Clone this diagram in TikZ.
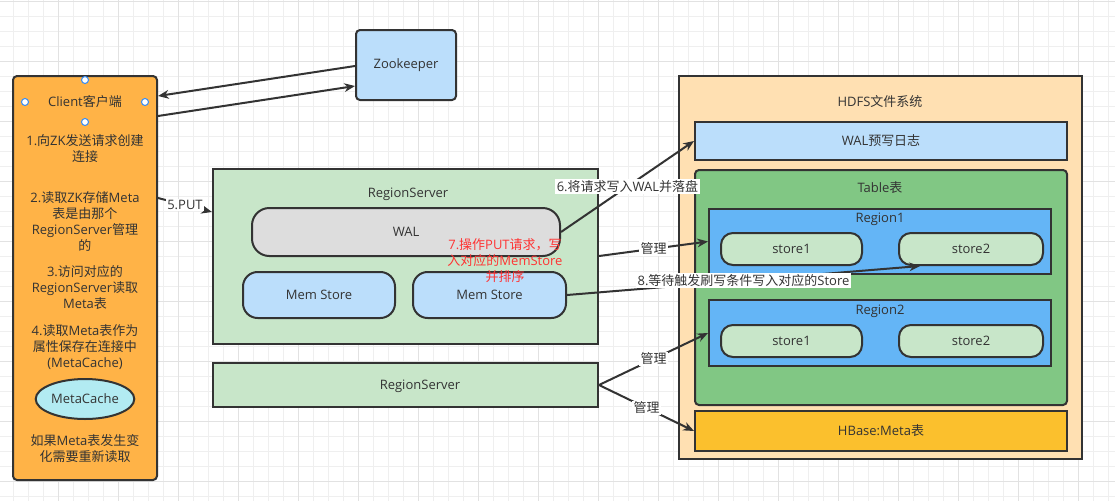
\documentclass[tikz,border=0pt]{standalone}
\usepackage{fontspec}
\setmainfont{Open Sans}
\newfontfamily\cjkf{Noto Sans CJK SC}
\newfontfamily\latf{Open Sans}
\newcount\mycc
\mycc="4E00
\loop \XeTeXcharclass\mycc=1 \advance\mycc by 1 \ifnum\mycc<"A000 \repeat
\XeTeXcharclass"FF0C=1
\XeTeXcharclass"3002=1
\XeTeXinterchartokenstate=1
\XeTeXinterchartoks 0 1 = {\cjkf}
\XeTeXinterchartoks 4095 1 = {\cjkf}
\XeTeXinterchartoks 255 1 = {\cjkf}
\XeTeXinterchartoks 1 0 = {\latf}
\usetikzlibrary{arrows.meta,shapes.geometric}
\definecolor{stk}{HTML}{333333}
\definecolor{txt}{HTML}{333333}
\definecolor{gminor}{HTML}{EFEFEF}
\definecolor{gmajor}{HTML}{E2E2E2}
\definecolor{clientc}{HTML}{FFB347}
\definecolor{lblue}{HTML}{BBDEFB}
\definecolor{lgreen}{HTML}{C8E6C9}
\definecolor{walgray}{HTML}{DDDDDD}
\definecolor{hdfsc}{HTML}{FFE0B2}
\definecolor{tablec}{HTML}{81C784}
\definecolor{regionc}{HTML}{64B5F6}
\definecolor{hbasec}{HTML}{FBC02D}
\definecolor{cachec}{HTML}{B2EBF2}
\definecolor{redt}{HTML}{FF3333}
\definecolor{handle}{HTML}{3D8EF0}
\begin{document}
\begin{tikzpicture}[x=0.75pt,y=-0.75pt,
  every node/.style={font=\fontsize{9.75}{12}\selectfont, text=txt},
  box/.style={draw=stk, line width=1.5pt, rectangle, inner sep=0pt},
  rbox/.style={box, rounded corners=3pt},
  lbl/.style={inner sep=0pt, align=center},
  wlbl/.style={fill=white, inner sep=1pt},
  arr/.style={draw=stk, line width=1.5pt, -{Stealth[length=8pt,width=6.5pt,inset=2.5pt]}},
  hnd/.style={draw=handle, fill=white, line width=0.8pt}
]
\useasboundingbox (0,0) rectangle (1115,501);
\fill[white] (0,0) rectangle (1115,501);
% grid
\foreach \x in {13,28,...,1108} {\draw[gminor, line width=0.75pt] (\x,0) -- (\x,501);}
\foreach \y in {1,16,...,496} {\draw[gminor, line width=0.75pt] (0,\y) -- (1115,\y);}
\foreach \x in {58,118,...,1078} {\draw[gmajor, line width=0.75pt] (\x,0) -- (\x,501);}
\foreach \y in {1,61,...,481} {\draw[gmajor, line width=0.75pt] (0,\y) -- (1115,\y);}

% Client
\node[rbox, fill=clientc, minimum width=108pt, minimum height=303pt] (client) at (85,278) {};
\node[lbl] (ctitle) at (85,102) {Client客户端};
\node[lbl] (c1) at (85,148.5) {1.向ZK发送请求创建\\连接};
\node[lbl] (c2) at (85,221) {2.读取ZK存储Meta\\表是由那个\\RegionServer管理\\的};
\node[lbl] (c3) at (85,287.5) {3.访问对应的\\RegionServer读取\\Meta表};
\node[lbl] (c4) at (85,347.5) {4.读取Meta表作为\\属性保存在连接中\\(MetaCache)};
\node[draw=stk, line width=1.5pt, ellipse, fill=cachec, minimum width=74pt, minimum height=30pt, inner sep=0pt] (cache) at (85,399) {MetaCache};
\node[lbl] (c5) at (85,448.5) {如果Meta表发生变\\化需要重新读取};
\foreach \p in {(85,80),(25,102),(145,102),(85,122)} {\draw[hnd] \p circle (3.5);}

% Zookeeper
\node[rbox, fill=lblue, minimum width=75pt, minimum height=52.5pt] (zk) at (406,65) {Zookeeper};

% RegionServers
\node[box, fill=lgreen, minimum width=288.75pt, minimum height=131.25pt] (rs1) at (405.5,256.5) {};
\node[lbl] (rs1t) at (408,194) {RegionServer};
\node[box, fill=walgray, rounded corners=13pt, minimum width=231pt, minimum height=36pt] (wal) at (406,232) {WAL};
\node[box, fill=lblue, rounded corners=11pt, minimum width=114pt, minimum height=34.5pt] (ms1) at (319,295) {Mem Store};
\node[box, fill=lblue, rounded corners=11pt, minimum width=114.75pt, minimum height=34.5pt] (ms2) at (489.5,295) {Mem Store};
\node[box, fill=lgreen, minimum width=288.75pt, minimum height=33pt] (rs2) at (405.5,385) {};
\node[lbl] (rs2t) at (420,386) {RegionServer};

% HDFS
\node[box, fill=hdfsc, minimum width=302.25pt, minimum height=287.25pt] (hdfs) at (880.5,267.5) {};
\node[lbl] (hdfst) at (880,102) {HDFS文件系统};
\node[box, fill=lblue, minimum width=279pt, minimum height=28.5pt] (walog) at (881,141) {WAL预写日志};
\node[rbox, fill=tablec, minimum width=279pt, minimum height=176.25pt] (table) at (881,287.5) {};
\node[lbl] (tablet) at (880,188) {Table表};
\node[box, fill=regionc, minimum width=256.5pt, minimum height=48.75pt] (r1) at (880,241.5) {};
\node[lbl] (r1t) at (880,219) {Region1};
\node[box, fill=lgreen, rounded corners=9pt, minimum width=105.75pt, minimum height=24pt] (r1s1) at (791.5,249) {store1};
\node[box, fill=lgreen, rounded corners=9pt, minimum width=108pt, minimum height=24pt] (r1s2) at (971,249) {store2};
\node[box, fill=regionc, minimum width=256.5pt, minimum height=49.5pt] (r2) at (880,333) {};
\node[lbl] (r2t) at (880,311) {Region2};
\node[box, fill=lgreen, rounded corners=9pt, minimum width=105.75pt, minimum height=24pt] (r2s1) at (791.5,341) {store1};
\node[box, fill=lgreen, rounded corners=9pt, minimum width=108pt, minimum height=24pt] (r2s2) at (971,341) {store2};
\node[box, fill=hbasec, minimum width=279pt, minimum height=30pt] (hbase) at (881,431) {HBase:Meta表};

% red note
\node[lbl, text=redt] (note7) at (505,261) {7.操作PUT请求，写\\入对应的MemStore\\并排序};

% connectors
\draw[arr] (zk.west |- 0,66) -- (client.east |- 0,96);
\draw[arr] (client.east |- 0,116) -- (zk.west |- 0,86);
\draw[arr] (client.east |- 0,198) -- node[wlbl] {5.PUT} (rs1.west |- 0,212);
\draw[arr] (wal.east) -- node[wlbl] {6.将请求写入WAL并落盘} (walog.west);
\draw[arr] (rs1.east |- 0,256) -- node[wlbl] {管理} (r1.west);
\draw[arr] (ms2.east) -- node[wlbl] {8.等待触发刷写条件写入对应的Store} (r1s2.south west -| 920,0);
\draw[arr] (rs2.east) -- node[wlbl] {管理} (r2.west);
\draw[arr] (rs2.east) -- node[wlbl] {管理} (hbase.west);
\end{tikzpicture}
\end{document}
